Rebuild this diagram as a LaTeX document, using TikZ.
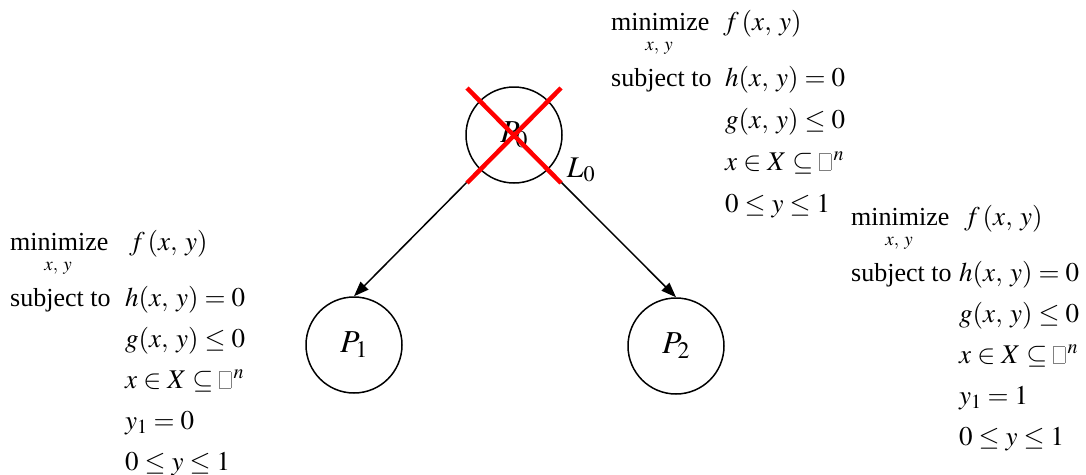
\documentclass[tikz,border=0pt]{standalone}
\usepackage{mathptmx}
\usepackage[no-math]{fontspec}
\setmainfont{Liberation Serif}
\usetikzlibrary{arrows.meta,calc}
\newcommand\emptybox{{\color{gray}\setlength\fboxrule{0.6pt}\setlength\fboxsep{0pt}\fbox{\rule{0pt}{16pt}\hspace{11pt}}}}
\newcommand\cm{,\mkern3mu}
\begin{document}
\begin{tikzpicture}[x=1pt,y=-1pt,
  txt/.style={font=\fontsize{26}{30}\selectfont, inner sep=0pt, anchor=base west},
  eq/.style={font=\fontsize{27}{31}\selectfont, inner sep=0pt, anchor=base west},
  small/.style={font=\fontsize{19}{22}\selectfont, inner sep=0pt, anchor=base},
  state/.style={circle, draw, line width=1.5pt, minimum size=96pt, inner sep=0pt, font=\fontsize{32}{36}\selectfont},
  arr/.style={line width=1.5pt, -{Triangle[length=15pt,width=11pt]}},
  cross/.style={red, line width=4.5pt}]
\useasboundingbox (0,0) rectangle (1086,474);
% nodes
\node[state] (P0) at (514,135) {$P_0$};
\node[state] (P1) at (354,345) {$P_1$};
\node[state] (P2) at (676,346) {$P_2$};
\draw[arr] (P0.225) -- (P1.north);
\draw[arr] (P0.-45) -- (P2.north);
\draw[cross] ($(P0.center)+(-47,-47)$) -- ($(P0.center)+(47,48)$);
\draw[cross] ($(P0.center)+(47,-47)$) -- ($(P0.center)+(-47,48)$);
\node[font=\fontsize{30}{34}\selectfont, inner sep=0pt] (L0) at (581,170) {$L_0$};
% top block
\node[txt] (tmin) at (611,30) {minimize};
\node[small] (tsub) at (659,50) {$x\cm y$};
\node[eq] (tf) at (723,30) {$f\,(x\cm y)$};
\node[txt] (tst) at (611,86) {subject to};
\node[eq] (th) at (725,86) {$h(x\cm y) = 0$};
\node[eq] (tg) at (725,128) {$g(x\cm y) \le 0$};
\node[eq] (tx) at (725,170) {$x \in X \subseteq \emptybox^{\,n}$};
\node[eq] (ty) at (725,212) {$0 \le y \le 1$};
% left block
\node[txt] (lmin) at (10,250) {minimize};
\node[small] (lsub) at (58,270) {$x\cm y$};
\node[eq] (lf) at (129,250) {$f\,(x\cm y)$};
\node[txt] (lst) at (10,306) {subject to};
\node[eq] (lh) at (125,306) {$h(x\cm y) = 0$};
\node[eq] (lg) at (125,347) {$g(x\cm y) \le 0$};
\node[eq] (lx) at (125,388) {$x \in X \subseteq \emptybox^{\,n}$};
\node[eq] (ly1) at (125,429) {$y_1 = 0$};
\node[eq] (ly) at (125,470) {$0 \le y \le 1$};
% right block
\node[txt] (rmin) at (851,225) {minimize};
\node[small] (rsub) at (899,245) {$x\cm y$};
\node[eq] (rf) at (964,225) {$f\,(x\cm y)$};
\node[txt] (rst) at (851,281) {subject to};
\node[eq] (rh) at (959,281) {$h(x\cm y) = 0$};
\node[eq] (rg) at (959,322) {$g(x\cm y) \le 0$};
\node[eq] (rx) at (959,363) {$x \in X \subseteq \emptybox^{\,n}$};
\node[eq] (ry1) at (959,404) {$y_1 = 1$};
\node[eq] (ry) at (959,445) {$0 \le y \le 1$};
\end{tikzpicture}
\end{document}
